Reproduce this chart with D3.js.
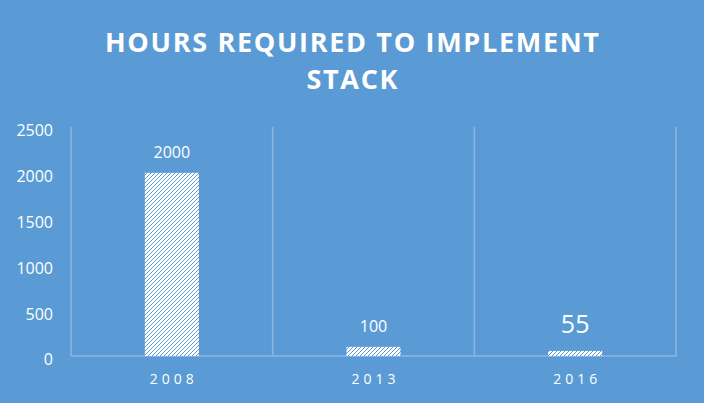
<!DOCTYPE html>
<html><head><meta charset="utf-8">
<script src="https://cdn.jsdelivr.net/npm/d3@7"></script>
<style>html,body{margin:0;padding:0;background:#5B9BD5;}svg{display:block;}</style>
</head><body>
<svg id="c" width="704" height="403"></svg>
<script>
const categories = ["2008", "2013", "2016"];
const values = [2000, 100, 55];
const valueLabelSizes = [16, 16, 25];
const yTicks = [0, 500, 1000, 1500, 2000, 2500];
const titleLines = ["HOURS REQUIRED TO IMPLEMENT", "STACK"];

const W = 704, H = 403;
const m = {left: 71, right: 28, top: 127, bottom: 47};
const svg = d3.select("#c");
svg.append("rect").attr("width", W).attr("height", H).attr("fill", "#5B9BD5");

const defs = svg.append("defs");
const pat = defs.append("pattern").attr("id", "hatch").attr("patternUnits", "userSpaceOnUse")
  .attr("width", 4).attr("height", 4);
pat.append("rect").attr("width", 4).attr("height", 4).attr("fill", "#ffffff");
pat.append("path").attr("d", "M-1,1 l2,-2 M0,4 l4,-4 M3,5 l2,-2")
  .attr("stroke", "#5B9BD5").attr("stroke-width", 1);

const x = d3.scaleBand().domain(categories).range([m.left, W - m.right]).paddingInner(0).paddingOuter(0);
const y = d3.scaleLinear().domain([0, 2500]).range([H - m.bottom, m.top]);
const lineCol = "#8EB5E2";

// vertical separators
const seps = [m.left].concat(categories.map(c => x(c) + x.bandwidth()));
svg.append("g").selectAll("line").data(seps).join("line")
  .attr("x1", d => d).attr("x2", d => d)
  .attr("y1", y(2500)).attr("y2", y(0))
  .attr("stroke", lineCol).attr("stroke-width", 1.5);

// bottom axis line
svg.append("line").attr("x1", m.left).attr("x2", W - m.right)
  .attr("y1", y(0)).attr("y2", y(0)).attr("stroke", lineCol).attr("stroke-width", 1.5);

// y tick labels
const yAxis = d3.axisLeft(y).tickValues(yTicks).tickFormat(d3.format("d")).tickSize(0).tickPadding(18);
const ga = svg.append("g").attr("transform", `translate(${m.left},0)`).call(yAxis);
ga.select(".domain").remove();
ga.selectAll("text").attr("fill", "#fff").attr("font-family", "'Open Sans', sans-serif")
  .attr("font-size", 16).attr("dy", "0.55em");

// bars
const bw = 54;
svg.append("g").selectAll("rect").data(values).join("rect")
  .attr("x", (d, i) => x(categories[i]) + x.bandwidth() / 2 - bw / 2)
  .attr("width", bw)
  .attr("y", d => y(d))
  .attr("height", d => y(0) - y(d))
  .attr("fill", "url(#hatch)");

// value labels
svg.append("g").selectAll("text").data(values).join("text")
  .attr("x", (d, i) => x(categories[i]) + x.bandwidth() / 2)
  .attr("y", (d, i) => y(d) - (i === 2 ? 18 : 15))
  .attr("text-anchor", "middle").attr("fill", "#fff")
  .attr("font-family", "'Open Sans', sans-serif")
  .attr("font-size", (d, i) => valueLabelSizes[i])
  .text(d => d);

// x labels
svg.append("g").selectAll("text").data(categories).join("text")
  .attr("x", d => x(d) + x.bandwidth() / 2 + 2)
  .attr("y", 384)
  .attr("text-anchor", "middle").attr("fill", "#fff")
  .attr("font-family", "'Open Sans', sans-serif")
  .attr("font-size", 14).attr("letter-spacing", 4)
  .text(d => d);

// title
const t = svg.append("g").selectAll("text").data(titleLines).join("text")
  .attr("x", 352).attr("y", (d, i) => 52 + i * 37)
  .attr("text-anchor", "middle").attr("fill", "#fff")
  .attr("font-family", "'Open Sans', sans-serif").attr("font-weight", 700)
  .attr("font-size", 27)
  .text(d => d);
const n0 = t.nodes()[0];
const w0 = n0.getComputedTextLength();
const ls = (494 - w0) / (titleLines[0].length - 1);
t.attr("letter-spacing", ls).attr("x", 352 + ls / 2);
</script>
</body></html>
